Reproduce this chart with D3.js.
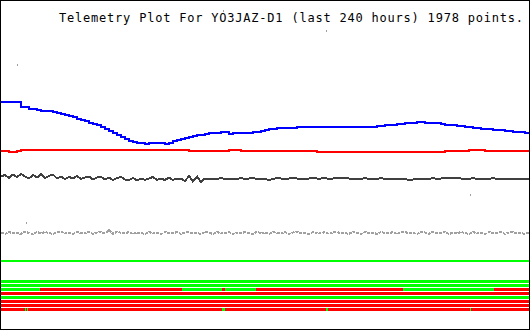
<!DOCTYPE html>
<html><head><meta charset="utf-8">
<script src="https://cdn.jsdelivr.net/npm/d3@7"></script>
<style>html,body{margin:0;padding:0;background:#fff;}svg{display:block;}</style>
</head><body><svg id="c" width="530" height="330"></svg>
<script>
const titleText = "Telemetry Plot For YO3JAZ-D1 (last 240 hours) 1978 points.";
const spanHours = 240;
// Sampled telemetry levels (arbitrary units), evenly spaced over the 240 h window
const blueVals = [228.3,228.3,228.3,228.3,228.3, 223.3,223,221.5,221,220.5, 219,219,219,218,216.7, 216,215,214,212.7,211.5,
 210,209,207.5,206.5,205, 202.7,201,199,197.5,195.5, 193,191,189.5,187.7,187, 186.7,186.5,186.7,186.7,187,
 187,186.5,187.5,189,190.5, 191,191.7,193,194,195, 195.5,196.3,196.7,197.3,197.5, 198.3,198.5,196.5,197.3,197.3,
 197.3,197.3,197.5,198.3,198.5, 199.5,200.5,201,201.5,201.7, 202,202.3,202.3,202.5,202.7, 203,203.3,203.3,203.3,203.3,
 203,203,202.7,202.7,203, 202.7,203,203.3,203.3,203.3, 203.3,203.3,203.3,203.5,204.3, 204.5,205.3,205.5,205.5,206,
 206.3,207,207.3,207.5,207.7, 208,207.5,207.5,207,206.7, 206.3,205.5,205.3,204.7,204.3, 204,203.5,202.7,202.3,201.7,
 201.3,201,200.7,200.3,200, 199.7,199,198.7,198.3,198.3, 198,197.3,197.3];
const redVals = [179,179,177.7,178.3,178.7,
 179.7,180,179.7,179.8,179.7,180,179.8,179.7,
 180.3,180.3,180.3,180,180.3,180.3,179.7,180.3,180.3,180.3,179.7,180.3,180.3,180.3,180.3,180.3,180.3,180.3,180.3,180.3,180.3,180.3,180.3,180.3,180.3,180.3,180.3,180.3,180.3,180.3,180.3,180.3,180.3,
 180.3,
 179.3,179.3,178.7,
 179.3,179.3,179.3,179.3,179.3,179.3,179.3,180,180,180,179.3,179.3,179.3,179.3,179.3,179.3,179.3,179.3,179.3,179.3,179.3,179.3,179.3,179.3,179.3,179.3,179.3,179.3,179.3,
 178.3,178.3,178.3,178.3,178.3,178.3,178.3,178.3,178.3,178.3,178.3,178.3,178.3,178.3,178.3,178.3,178.3,178.3,178.3,178.3,178.3,178.3,178.3,178.3,178.3,178.3,178.3,178.3,178.3,178.3,178.3,178.3,
 179.3,179.3,179.3,179.3,179.3,179.3,
 180.3,180.3,180.3,180.3,
 179.3,179.3,179.3,178.7,179.3,179.3,178.7,179.3,179.3,179.3,179.3,179.3];
const darkVals = [153.5,155,152,155.5,153,156,153.5,151.5,155,152.5,156,152,154,155.5,151.5,
 153.5,151,153,151.5,154,151,152.5,153.5,150.5,152.5,
 153,150.5,152.5,150,152,153,150.5,150,152,149.5,151.5,150,151.5,153,150,151.5,150,152.5,150,151.5,
 151.5,149,154,148.5,153.5,148,151.5,
 151,151.5,151,152,151,151.5,150.5,151,152,151,151.5,152,151,151.5,151,150,151,152,151.5,151.5,
 151.5,152,151.5,151.5,151,151.5,152,151.5,151.5,152,151,151.5,152,151.5,152.5,151.5,151,151.5,151,152,
 151,151.5,151,152,151,151,151.5,151,150.5,151,150,150.5,151,150.5,151,151,152,151,151.5,152,
 151.5,152.5,152,151.5,151,151,152,151,150.5,151.5,151,152,151,150.5,151,151.5,151,150.5,151,151,151.5];
const grayVals = [97.5,96,98,96.5,97.5,96,98.5,97,96,98,96.5,98,97,96,97.5,98.5,96.5,97,96,98,
 97,96.5,98,96,97.5,98,96.5,100,96,98.5,97,96.5,98,96,97.5,97,96,98,96.5,97.5,
 96,98,97,96.5,98,96,97.5,98,96.5,97,96,98,97.5,96,98,96.5,97,98,96,97.5,
 96.5,98,97,96,98.5,96.5,97.5,96,98,97,96.5,98,96,97.5,98,96.5,97,96,98,97,
 96.5,98,96,97.5,98,96.5,97,96,98.5,97,96,98,96.5,97.5,96,98,97,96.5,98,96,
 97.5,98,96.5,97,96,98,97.5,96,98.5,96.5,97,98,96,97.5,96.5,98,97,96,98,96.5,
 97.5,96,98,97,96.5,98,96,97.5,98,96.5,97,96,97.5];
const glitchHours = [7.3, 11.4, 101.1, 147.5, 213.1];
const glitchVals  = [265, 107, 319, 299, 135];
const greenLevel = 69;
// Status bits: green intervals in hours, the rest of each row is red
const bitRows = ["b1","b2","b3","b4","b5","b6","b7","b8"];
const bitOn = [
  [[0,240]],
  [[0,240]],
  [[0,17.8],[82.4,100.6],[101.6,116.1],[182.6,224.1]],
  [],
  [[0,240]],
  [],
  [],
  [[10.9,11.4],[11.8,12.3],[100.6,101.6],[147.6,148.5],[213.1,213.6]]
];

const svg = d3.select("#c");
const W = 530, H = 330;
const x = d3.scaleLinear().domain([0, spanHours]).range([1, 529]);
const y = d3.scaleLinear().domain([0, 330]).range([330, 0]);
const rowY = d3.scaleBand().domain(bitRows).range([280, 311]).paddingInner(0.25).paddingOuter(0);
const tOf = (i, n) => i * spanHours / (n - 1);

svg.append("rect").attr("width", W).attr("height", H).attr("fill", "#fff");

function series(vals, color, width, curve, dash) {
  const line = d3.line().x((d, i) => x(tOf(i, vals.length))).y(d => y(d)).curve(curve);
  const p = svg.append("path").datum(vals).attr("d", line).attr("fill", "none")
    .attr("stroke", color).attr("stroke-width", width).attr("shape-rendering", "crispEdges");
  if (dash) p.attr("stroke-dasharray", dash);
}
series(grayVals, "#a0a0a0", 2, d3.curveLinear, "3,1");
series(darkVals, "#404040", 2, d3.curveLinear);
series(redVals, "#ff0000", 2, d3.curveStepAfter);
series(blueVals, "#0000ff", 2, d3.curveStepAfter);

svg.append("line").attr("x1", x(0)).attr("x2", x(spanHours))
  .attr("y1", y(greenLevel)).attr("y2", y(greenLevel))
  .attr("stroke", "#00ff00").attr("stroke-width", 2).attr("shape-rendering", "crispEdges");

svg.selectAll("rect.glitch").data(glitchHours).enter().append("rect").attr("class", "glitch")
  .attr("x", d => Math.round(x(d))).attr("y", (d, i) => Math.round(y(glitchVals[i])) - 1)
  .attr("width", 1).attr("height", 2).attr("fill", "#a0a0a0");

bitRows.forEach((r, k) => {
  svg.append("rect").attr("x", x(0)).attr("y", rowY(r)).attr("width", x(spanHours) - x(0))
    .attr("height", rowY.bandwidth()).attr("fill", "#ff0000").attr("shape-rendering", "crispEdges");
  svg.selectAll(null).data(bitOn[k]).enter().append("rect")
    .attr("x", d => x(d[0])).attr("y", rowY(r))
    .attr("width", d => Math.max(1, x(d[1]) - x(d[0])))
    .attr("height", rowY.bandwidth()).attr("fill", "#00ff00").attr("shape-rendering", "crispEdges");
});

svg.append("text").attr("x", 59).attr("y", 22).text(titleText)
  .attr("font-family", "'DejaVu Sans Mono', 'Liberation Mono', monospace").attr("font-size", 12)
  .attr("textLength", 464).attr("lengthAdjust", "spacing").attr("fill", "#000");

svg.append("rect").attr("x", 0.5).attr("y", 0.5).attr("width", 529).attr("height", 329)
  .attr("fill", "none").attr("stroke", "#000").attr("stroke-width", 1).attr("shape-rendering", "crispEdges");
</script></body></html>
